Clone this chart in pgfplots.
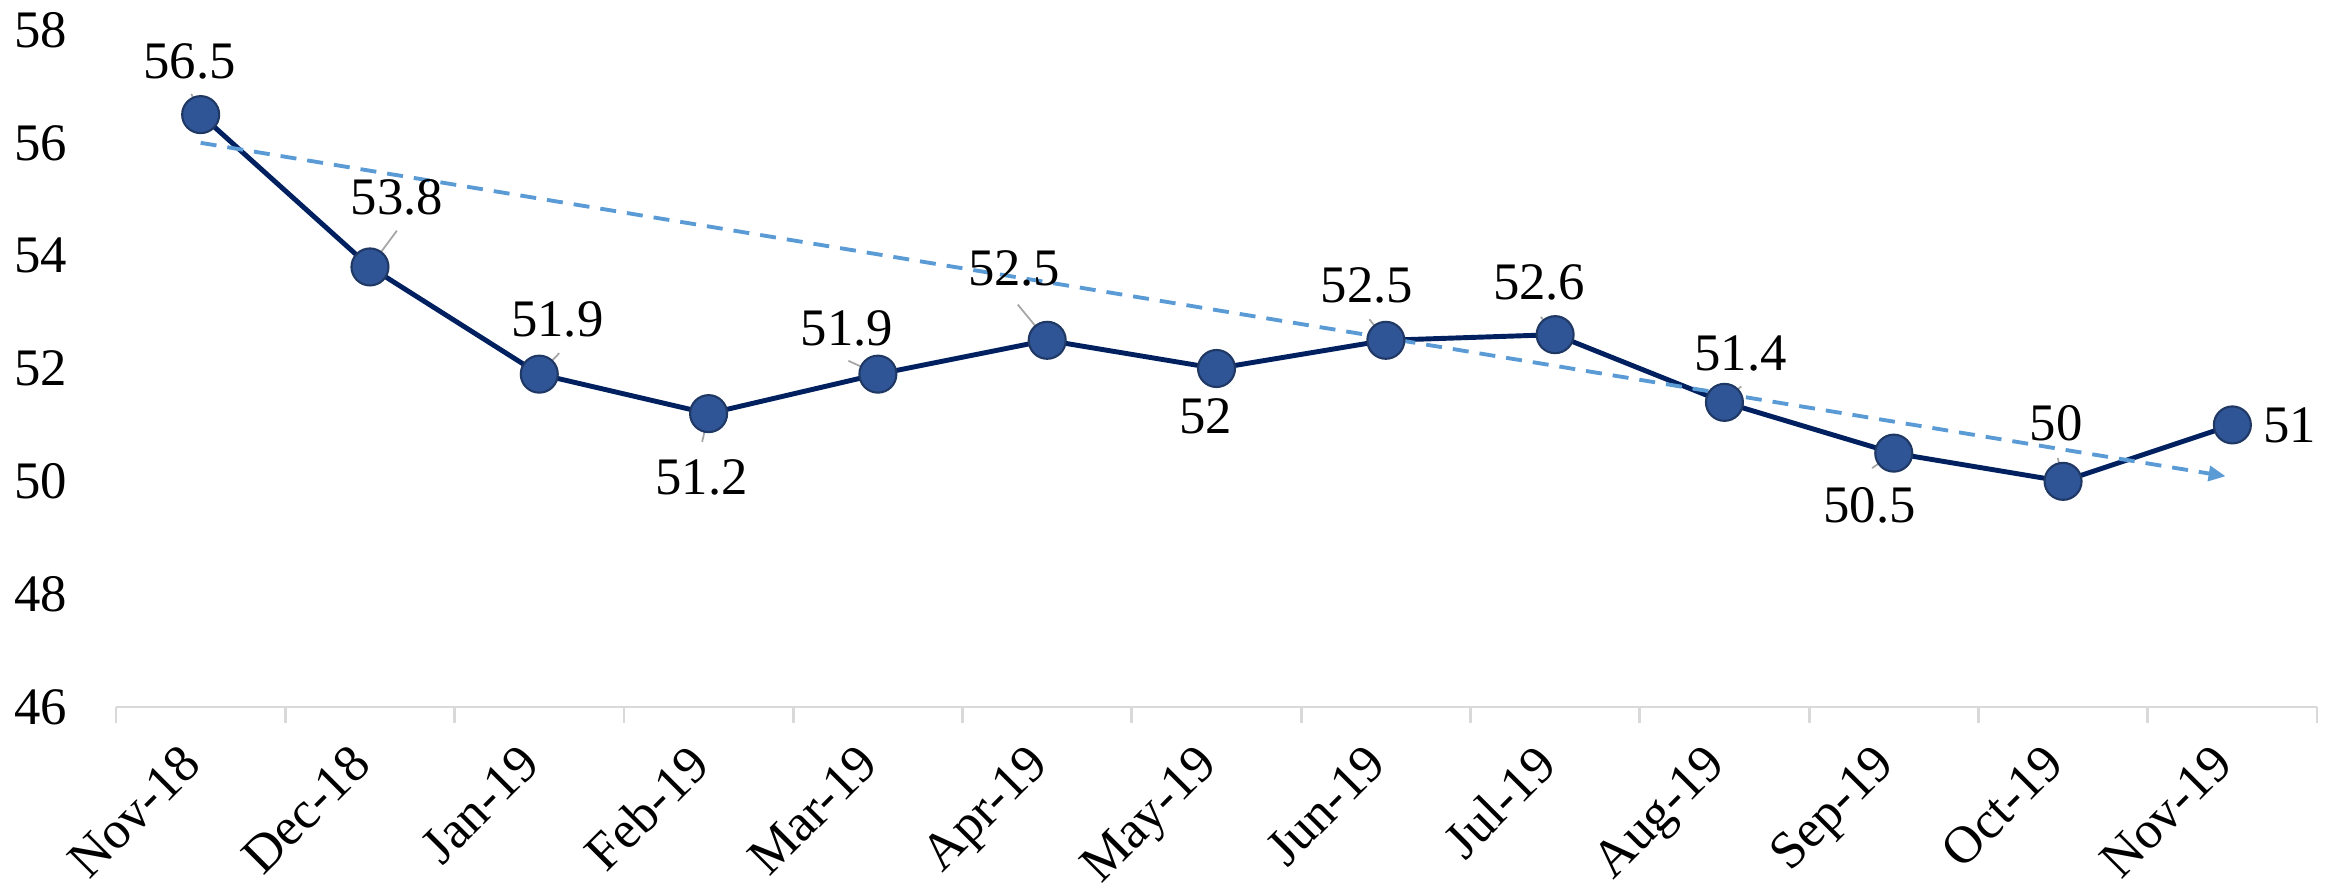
\documentclass[border=0pt]{standalone}
\usepackage{fontspec}
\setmainfont{Liberation Serif}
\usepackage{pgfplots}
\usepackage{pgfplotstable}
\pgfplotsset{compat=1.18}
\usetikzlibrary{arrows.meta}

\definecolor{lineNavy}{RGB}{0,32,96}
\definecolor{markFill}{RGB}{47,85,151}
\definecolor{markEdge}{RGB}{32,56,100}
\definecolor{trendBlue}{RGB}{91,155,213}
\definecolor{leaderGray}{RGB}{166,166,166}
\definecolor{axisGray}{RGB}{217,217,217}

% index, value, leader vector (axis units), label offset (cm)
\pgfplotstableread{
x  y     u      v      dx     dy
0  56.5  -0.055  0.367 -0.11   0.53
1  53.8   0.159  0.643  0.27   0.70
2  51.9   0.118  0.372  0.18   0.55
3  51.2  -0.038 -0.502 -0.07  -0.64
4  51.9  -0.174  0.236 -0.31   0.46
5  52.5  -0.174  0.633 -0.33   0.72
6  52.0  -0.057 -0.225 -0.11  -0.48
7  52.5  -0.097  0.372 -0.19   0.55
8  52.6  -0.084  0.314 -0.16   0.52
9  51.4   0.099  0.284  0.16   0.49
10 50.5  -0.128 -0.266 -0.24  -0.52
11 50.0  -0.031  0.413 -0.07   0.58
12 51.0   0.000  0.000  0.57   0.00
}\pmidata

\pgfplotstableread{
x     y
0     56.0
11.96 50.09
}\trenddata

\begin{document}
\begin{tikzpicture}
\begin{axis}[
  scale only axis,
  width=22.01cm, height=6.77cm,
  xmin=-0.5, xmax=12.5,
  ymin=46, ymax=58,
  clip=false,
  axis x line*=bottom, axis y line*=left,
  x axis line style={axisGray, line width=0.8pt},
  y axis line style={draw=none},
  xtick={0,...,12},
  xticklabels={Nov-18,Dec-18,Jan-19,Feb-19,Mar-19,Apr-19,May-19,Jun-19,Jul-19,Aug-19,Sep-19,Oct-19,Nov-19},
  major x tick style={draw=none},
  minor xtick={-0.5,0.5,...,12.5},
  minor x tick style={axisGray, line width=0.8pt},
  minor tick length=0.16cm,
  tick align=outside,
  ytick={46,48,...,58},
  ytick style={draw=none},
  /pgf/number format/assume math mode=true,
  tick label style={font=\fontsize{15}{18}\selectfont, text=black},
  yticklabel style={inner sep=0pt, xshift=-0.33cm},
  xticklabel style={xshift=-0.22cm, rotate=45, anchor=north east, inner sep=0pt},
  xticklabel shift=0.19cm,
]
  \addplot[lineNavy, line width=1.4pt, mark=*, mark size=0.185cm,
    mark options={fill=markFill, draw=markEdge, line width=0.6pt}]
    table[x=x, y=y]{\pmidata};

  \addplot[trendBlue, line width=1.1pt, dash pattern=on 0.16cm off 0.11cm,
    -{Triangle[length=0.17cm, width=0.15cm]}]
    table[x=x, y=y]{\trenddata};

  % leader lines
  \addplot[leaderGray, line width=0.5pt, no markers,
    quiver={u=\thisrow{u}, v=\thisrow{v}}]
    table[x=x, y=y]{\pmidata};

  % data labels
  \addplot[draw=none, no markers, point meta=y,
    nodes near coords,
    visualization depends on={\thisrow{dx}\as\lbdx},
    visualization depends on={\thisrow{dy}\as\lbdy},
    every node near coord/.append style={anchor=center, inner sep=0pt,
      xshift=\lbdx cm, yshift=\lbdy cm,
      font=\fontsize{15}{18}\selectfont, text=black}]
    table[x=x, y=y]{\pmidata};
\end{axis}
\pgfresetboundingbox
\path ([xshift=-1.16cm, yshift=0.30cm]current axis.north west)
  rectangle ([xshift=0.22cm, yshift=-1.79cm]current axis.south east);
\end{tikzpicture}
\end{document}
